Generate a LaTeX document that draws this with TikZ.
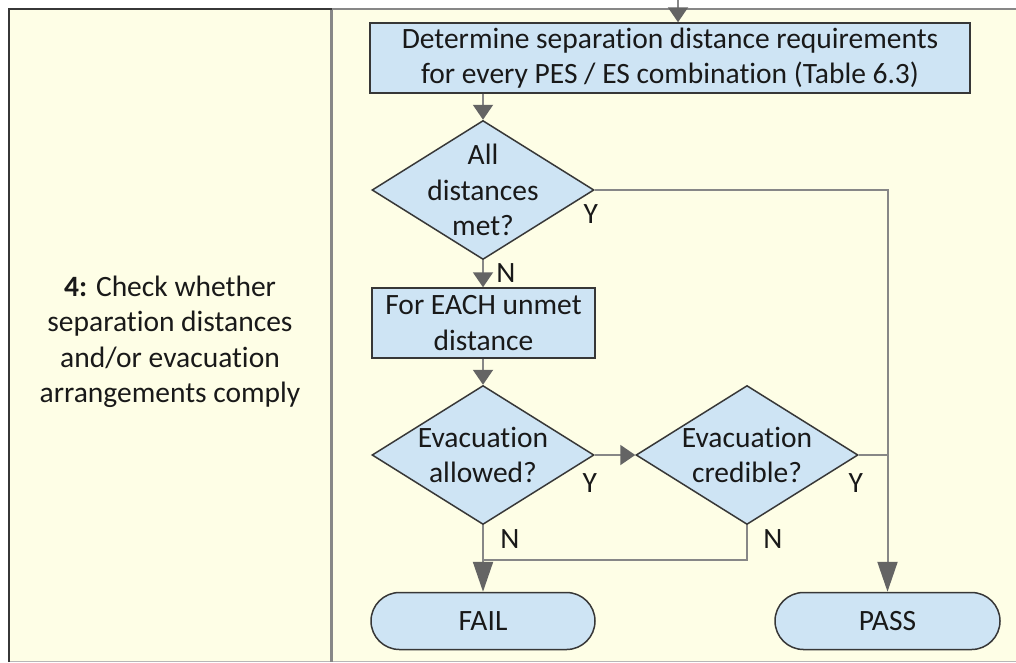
\documentclass[tikz,border=0pt]{standalone}
\usepackage{fontspec}
\setmainfont{Carlito}[RawFeature=-liga]
\usetikzlibrary{arrows.meta, positioning, shapes.geometric, shapes.misc}
\definecolor{panelyellow}{RGB}{254,254,230}
\definecolor{boxblue}{RGB}{206,228,244}
\definecolor{linegray}{RGB}{135,135,135}
\definecolor{tipgray}{RGB}{100,100,100}
\definecolor{edgedark}{RGB}{55,55,55}

\begin{document}
\begin{tikzpicture}[x=1pt, y=-1pt,
    every node/.style={font=\fontsize{29.5}{35.5}\selectfont, text=black!90},
    process/.style={draw=edgedark, line width=1.5pt, fill=boxblue, inner sep=0pt, align=center},
    decision/.style={diamond, draw=edgedark, line width=1.5pt, fill=boxblue, minimum width=222pt, minimum height=139pt, inner sep=0pt},
    terminal/.style={rounded rectangle, draw=edgedark, line width=1.5pt, fill=boxblue, minimum width=224pt, minimum height=57pt, inner sep=0pt},
    flow/.style={draw=linegray, line width=2pt, -{Triangle[length=15pt, width=20pt, color=tipgray]}},
    longflow/.style={draw=linegray, line width=2pt, -{Triangle[length=30pt, width=20pt, color=tipgray]}},
    joinline/.style={draw=linegray, line width=2pt},
    answer/.style={inner sep=0pt}
]
    \useasboundingbox (0,0) rectangle (1016,662);

    % Panel background and borders
    \fill[panelyellow] (8,8) rectangle (1016,661);
    \draw[linegray!60, line width=1pt] (8,661) -- (1016,661);
    \draw[linegray, line width=2pt] (331,9) -- (1016,9);
    \draw[linegray, line width=3pt] (331,8) -- (331,662);
    \draw[edgedark, line width=2.5pt] (9,662) -- (9,9) -- (332,9);

    % Step description
    \node[align=center] (steptext) at (170,342) {\textbf{4:} Check whether\\separation distances\\and/or evacuation\\arrangements comply};

    % Flow chart
    \coordinate (entry) at (678,0);
    \node[process, minimum width=600pt, minimum height=70pt] (determine) at (670,58) {Determine separation distance requirements\\for every PES / ES combination (Table 6.3)};
    \node[decision, label={[align=center]center:All\\distances\\met?}] (allmet) at (483,190) {};
    \node[process, minimum width=223pt, minimum height=70pt] (unmet) at (483.5,323) {For EACH unmet\\distance};
    \node[decision, label={[align=center]center:Evacuation\\allowed?}] (allowed) at (483,455) {};
    \node[decision, label={[align=center]center:Evacuation\\credible?}] (credible) at (747,455) {};
    \node[terminal] (fail) at (483,621) {FAIL};
    \node[terminal, minimum width=225pt] (pass) at (887.5,621) {PASS};
    \coordinate (merge) at (483,560);

    % Connectors
    \draw[flow] (entry) -- (determine.north -| entry);
    \draw[flow] (determine.south -| allmet) -- (allmet.north);
    \draw[flow] (allmet.south) -- (unmet.north -| allmet);
    \draw[flow] (unmet.south -| allowed) -- (allowed.north);
    \draw[flow] (allowed.east) -- (credible.west);
    \draw[longflow] (allowed.south) -- (fail.north);
    \draw[joinline] (credible.south) |- (merge);
    \draw[longflow] (allmet.east) -| (pass.north);
    \draw[joinline] (credible.east) -- (credible.east -| pass.north);

    % Branch labels
    \node[answer] (ymet) at ([xshift=-4pt, yshift=-24pt]allmet.east) {Y};
    \node[answer] (nmet) at ([xshift=23pt, yshift=-13pt]allmet.south) {N};
    \node[answer] (yallowed) at ([xshift=-5pt, yshift=-28pt]allowed.east) {Y};
    \node[answer] (nallowed) at ([xshift=27pt, yshift=-14pt]allowed.south) {N};
    \node[answer] (ycredible) at ([xshift=-3pt, yshift=-28pt]credible.east) {Y};
    \node[answer] (ncredible) at ([xshift=26pt, yshift=-14pt]credible.south) {N};

\end{tikzpicture}
\end{document}
